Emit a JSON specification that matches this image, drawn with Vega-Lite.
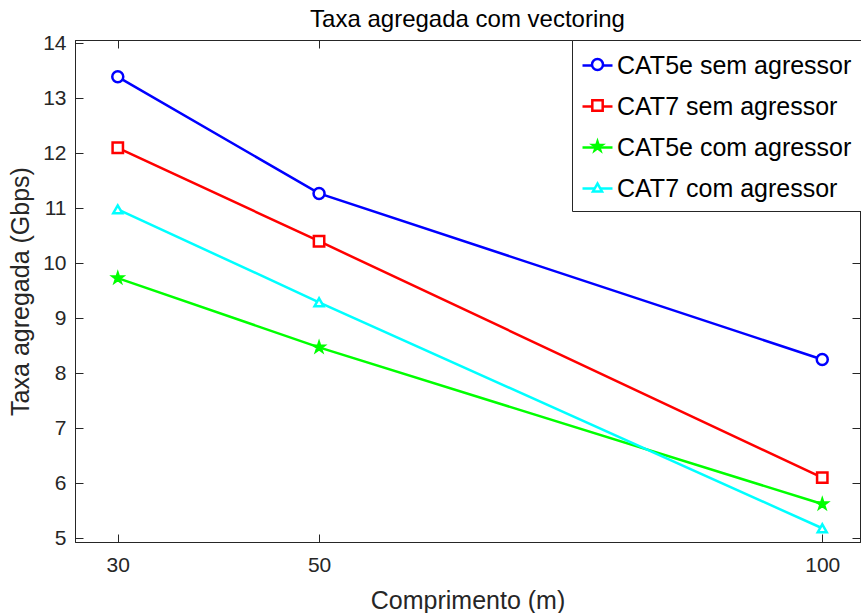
{
  "$schema": "https://vega.github.io/schema/vega-lite/v6.json",
  "autosize": {"type": "none"},
  "width": 785,
  "height": 502,
  "padding": {"left": 75, "top": 40, "right": 1, "bottom": 71},
  "background": "white",
  "title": {
    "text": "Taxa agregada com vectoring",
    "font": "Liberation Sans",
    "fontSize": 24,
    "fontWeight": "normal",
    "color": "#000000",
    "anchor": "middle",
    "offset": 0
  },
  "config": {
    "view": {"stroke": "#262626", "strokeWidth": 1},
    "axis": {
      "grid": false,
      "domainColor": "#262626",
      "domainWidth": 1,
      "tickColor": "#262626",
      "tickWidth": 1,
      "tickSize": -8,
      "labelFont": "Liberation Sans",
      "labelFontSize": 21,
      "labelColor": "#262626",
      "titleFont": "Liberation Sans",
      "titleFontSize": 25,
      "titleFontWeight": "normal",
      "titleColor": "#262626"
    }
  },
  "data": {
    "values": [
      {"comprimento": 30, "taxa": 13.39, "serie": "CAT5e sem agressor"},
      {"comprimento": 50, "taxa": 11.27, "serie": "CAT5e sem agressor"},
      {"comprimento": 100, "taxa": 8.25, "serie": "CAT5e sem agressor"},
      {"comprimento": 30, "taxa": 12.10, "serie": "CAT7 sem agressor"},
      {"comprimento": 50, "taxa": 10.40, "serie": "CAT7 sem agressor"},
      {"comprimento": 100, "taxa": 6.10, "serie": "CAT7 sem agressor"},
      {"comprimento": 30, "taxa": 9.73, "serie": "CAT5e com agressor"},
      {"comprimento": 50, "taxa": 8.47, "serie": "CAT5e com agressor"},
      {"comprimento": 100, "taxa": 5.62, "serie": "CAT5e com agressor"},
      {"comprimento": 30, "taxa": 10.98, "serie": "CAT7 com agressor"},
      {"comprimento": 50, "taxa": 9.29, "serie": "CAT7 com agressor"},
      {"comprimento": 100, "taxa": 5.18, "serie": "CAT7 com agressor"}
    ]
  },
  "layer": [
    {
      "mark": {"type": "line", "strokeWidth": 2.5, "clip": true},
      "encoding": {
        "x": {
          "field": "comprimento",
          "type": "quantitative",
          "scale": {"domain": [25.75, 103.75], "nice": false, "zero": false},
          "axis": {"orient": "bottom", "values": [30, 50, 100], "labelPadding": 20, "title": "Comprimento (m)", "titlePadding": 13}
        },
        "y": {
          "field": "taxa",
          "type": "quantitative",
          "scale": {"domain": [4.93, 14.06], "nice": false, "zero": false},
          "axis": {"orient": "left", "values": [5, 6, 7, 8, 9, 10, 11, 12, 13, 14], "labelPadding": 17, "title": "Taxa agregada (Gbps)", "titlePadding": 9}
        },
        "stroke": {
          "field": "serie",
          "type": "nominal",
          "sort": ["CAT5e sem agressor", "CAT7 sem agressor", "CAT5e com agressor", "CAT7 com agressor"],
          "scale": {"range": ["#0000ff", "#ff0000", "#00ff00", "#00ffff"]},
          "legend": {
            "orient": "none",
            "legendX": 497,
            "legendY": 0,
            "zindex": 1,
            "title": null,
            "symbolType": "stroke",
            "symbolSize": 900,
            "symbolStrokeWidth": 2.5,
            "labelFont": "Liberation Sans",
            "labelFontSize": 25,
            "labelColor": "#000000",
            "labelOffset": 3,
            "labelLimit": 400,
            "rowPadding": 11,
            "padding": 9,
            "strokeColor": "#262626",
            "fillColor": "#ffffff"
          }
        }
      }
    },
    {
      "mark": {"type": "point", "strokeWidth": 2.5, "opacity": 1, "clip": true},
      "encoding": {
        "x": {
          "field": "comprimento",
          "type": "quantitative",
          "axis": {"orient": "top", "values": [30, 50, 100], "labels": false, "title": null}
        },
        "y": {
          "field": "taxa",
          "type": "quantitative",
          "axis": {"orient": "right", "values": [5, 6, 7, 8, 9, 10, 11, 12, 13, 14], "labels": false, "title": null}
        },
        "color": {
          "field": "serie",
          "type": "nominal",
          "scale": {
            "domain": ["CAT5e sem agressor", "CAT7 sem agressor", "CAT5e com agressor", "CAT7 com agressor"],
            "range": ["#0000ff", "#ff0000", "#00ff00", "#00ffff"]
          },
          "legend": {
            "orient": "none",
            "legendX": 501,
            "legendY": 3,
            "zindex": 2,
            "title": null,
            "labelFont": "Liberation Sans",
            "labelFontSize": 25,
            "labelOpacity": 0,
            "labelOffset": 3,
            "labelLimit": 400,
            "rowPadding": 15,
            "padding": 9,
            "symbolStrokeWidth": 2.5,
            "symbolOpacity": 1
          }
        },
        "fill": {
          "field": "serie",
          "type": "nominal",
          "scale": {
            "domain": ["CAT5e sem agressor", "CAT7 sem agressor", "CAT5e com agressor", "CAT7 com agressor"],
            "range": ["#ffffff", "#ffffff", "#00ff00", "#ffffff"]
          }
        },
        "shape": {
          "field": "serie",
          "type": "nominal",
          "scale": {
            "domain": ["CAT5e sem agressor", "CAT7 sem agressor", "CAT5e com agressor", "CAT7 com agressor"],
            "range": ["circle", "square", "M0,-1L0.225,-0.309L0.951,-0.309L0.363,0.118L0.588,0.809L0,0.382L-0.588,0.809L-0.363,0.118L-0.951,-0.309L-0.225,-0.309Z", "triangle-up"]
          }
        },
        "size": {
          "field": "serie",
          "type": "nominal",
          "scale": {
            "domain": ["CAT5e sem agressor", "CAT7 sem agressor", "CAT5e com agressor", "CAT7 com agressor"],
            "range": [121, 81, 330, 280]
          }
        }
      }
    }
  ],
  "resolve": {"axis": {"x": "independent", "y": "independent"}}
}
